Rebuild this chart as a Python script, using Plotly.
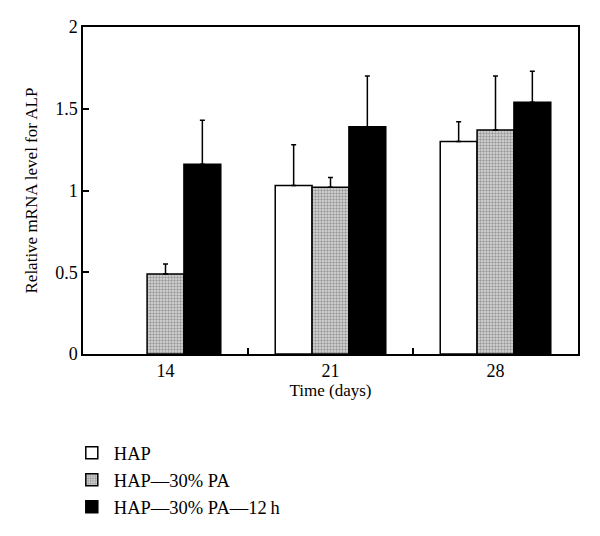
import plotly.graph_objects as go

categories = ["14", "21", "28"]
series_names = ["HAP", "HAP\u201430% PA", "HAP\u201430% PA\u201412\u2009h"]
hap = [None, 1.03, 1.30]
hap_err = [None, 0.25, 0.12]
hap_pa = [0.49, 1.02, 1.37]
hap_pa_err = [0.06, 0.06, 0.33]
hap_pa_12h = [1.16, 1.39, 1.54]
hap_pa_12h_err = [0.27, 0.31, 0.19]
y_ticks = [0, 0.5, 1, 1.5, 2]
y_tick_labels = ["0", "0.5", "1", "1.5", "2"]

FONT = "Liberation Serif"

def err(vals):
    return dict(type="data", array=vals, arrayminus=[0] * len(vals), symmetric=False,
                color="black", thickness=1.5, width=2.5)

fig = go.Figure()
fig.add_trace(go.Bar(x=categories, y=hap, name=series_names[0], error_y=err(hap_err),
                     marker=dict(color="white", line=dict(color="black", width=1.5))))
fig.add_trace(go.Bar(x=categories, y=hap_pa, name=series_names[1], error_y=err(hap_pa_err),
                     marker=dict(color="#d0d0d0", line=dict(color="black", width=1.5),
                                 pattern=dict(shape=".", fgcolor="#555555", bgcolor="#dcdcdc",
                                              size=3, solidity=0.5))))
fig.add_trace(go.Bar(x=categories, y=hap_pa_12h, name=series_names[2], error_y=err(hap_pa_12h_err),
                     marker=dict(color="black", line=dict(color="black", width=1.5))))

fig.update_layout(
    width=600, height=536,
    barmode="group", bargap=0.33, bargroupgap=0,
    plot_bgcolor="white", paper_bgcolor="white",
    margin=dict(l=75, r=30, t=19, b=190, autoexpand=False),
    font=dict(family=FONT, size=17, color="black"),
    showlegend=True,
    legend=dict(xref="container", yref="container", x=0.103, y=0.205,
                xanchor="left", yanchor="top", font=dict(family=FONT, size=18.5),
                bgcolor="rgba(0,0,0,0)", tracegroupgap=0, itemwidth=34),
    xaxis=dict(type="category", range=[-0.5, 2.5], tickson="boundaries",
               ticks="inside", ticklen=6, tickwidth=1.5, tickcolor="black",
               showline=True, linecolor="black", linewidth=1.5, mirror=True,
               showgrid=False, zeroline=False,
               tickfont=dict(family=FONT, size=18),
               title=dict(text="Time (days)", font=dict(family=FONT, size=17), standoff=3)),
    yaxis=dict(range=[0, 2], tickvals=y_ticks, ticktext=y_tick_labels,
               ticks="inside", ticklen=6, tickwidth=1.5, tickcolor="black",
               showline=True, linecolor="black", linewidth=1.5, mirror=True,
               showgrid=False, zeroline=False,
               tickfont=dict(family=FONT, size=18)),
    annotations=[dict(text="Relative mRNA level for ALP", textangle=-90,
                      xref="paper", yref="paper", x=0, y=0.5, xshift=-52,
                      xanchor="center", yanchor="middle", showarrow=False,
                      font=dict(family=FONT, size=17))],
)

fig.write_html("out.html")
